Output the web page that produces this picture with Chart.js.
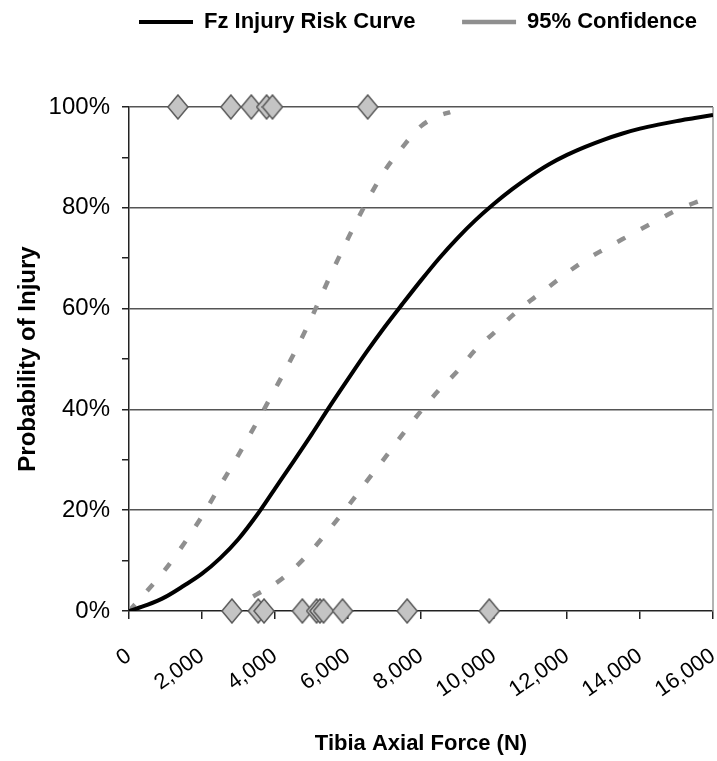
<!DOCTYPE html>
<html>
<head>
<meta charset="utf-8">
<title>Fz Injury Risk</title>
<script src="https://cdn.jsdelivr.net/npm/chart.js@4.4.1/dist/chart.umd.min.js"></script>
<style>
    html, body { margin: 0; padding: 0; background: #fff; }
    #wrap { width: 717px; height: 761px; position: relative; }
</style>
</head>
<body>
<div id="wrap"><canvas id="riskChart"></canvas></div>
<script>
// risk curve: tibia axial force (N) -> probability of injury (%)
const riskForce = [0, 500, 1000, 1500, 2000, 2500, 3000, 3500, 4000, 4500, 5000, 5500, 6000, 6500, 7000, 7500,
    8000, 8500, 9000, 9500, 10000, 10500, 11000, 11500, 12000, 12500, 13000, 13500, 14000, 14500, 15000, 15500, 16000];
const riskPct = [0, 1.2, 2.8, 5.0, 7.4, 10.5, 14.3, 19.0, 24.3, 29.6, 35.0, 40.6, 46.0, 51.3, 56.3, 61.0,
    65.6, 70.0, 74.0, 77.6, 80.8, 83.7, 86.3, 88.6, 90.5, 92.1, 93.5, 94.7, 95.7, 96.5, 97.2, 97.8, 98.4];

// 95% confidence bounds
const upperForce = [0, 500, 1000, 1500, 2000, 2500, 3000, 3500, 4000, 4500, 5000, 5500, 6000, 6500, 7000, 7500, 8000, 8500, 8800];
const upperPct = [0, 4.0, 8.3, 13.3, 18.8, 24.9, 31.0, 37.4, 44.0, 50.8, 58.2, 66.3, 73.9, 81.0, 87.3, 92.1, 96.2, 98.3, 99.0];
const lowerForce = [3400, 3500, 4000, 4500, 5000, 5500, 6000, 6500, 7000, 7500, 8000, 8500, 9000, 9500, 10000,
    10500, 11000, 11500, 12000, 12500, 13000, 13500, 14000, 14500, 15000, 15500, 16000];
const lowerPct = [2.9, 3.3, 5.4, 8.3, 12.0, 16.3, 20.8, 25.6, 30.3, 35.1, 39.7, 43.9, 47.6, 51.9, 55.2,
    58.6, 61.6, 64.3, 67.1, 69.6, 71.7, 73.7, 75.7, 77.6, 79.5, 81.0, 82.2];

// test outcomes: injured (100%) and not injured (0%)
const injuryForce = [1340, 2790, 3350, 3770, 3930, 6540];
const noInjuryForce = [2820, 3540, 3700, 4750, 5140, 5230, 5330, 5850, 7620, 9870];

const forceTicks = [0, 2000, 4000, 6000, 8000, 10000, 12000, 14000, 16000];
const pctTicks = [0, 20, 40, 60, 80, 100];

const FONT = "'Liberation Sans', Arial, Helvetica, sans-serif";

const toPoints = (xs, ys) => xs.map((x, i) => ({x: x, y: ys[i]}));
const withComma = v => String(v).replace(/\B(?=(\d{3})+(?!\d))/g, ",");

// grey diamond marker, a bit taller than wide
function diamondMarker(w, h) {
    const c = document.createElement("canvas");
    c.width = w + 2;
    c.height = h + 2;
    const g = c.getContext("2d");
    g.beginPath();
    g.moveTo(c.width / 2, 1);
    g.lineTo(c.width - 1, c.height / 2);
    g.lineTo(c.width / 2, c.height - 1);
    g.lineTo(1, c.height / 2);
    g.closePath();
    g.fillStyle = "#c4c4c4";
    g.fill();
    g.lineWidth = 1.5;
    g.strokeStyle = "#5a5a5a";
    g.stroke();
    return c;
}

// extra room between the legend and the plot
const legendGap = {
    id: "legendGap",
    beforeInit(chart) {
        const fit = chart.legend.fit;
        chart.legend.fit = function () {
            fit.call(this);
            this.height += 64;
        };
    }
};

// thin frame line on the right of the plot area
const plotFrame = {
    id: "plotFrame",
    beforeDatasetsDraw(chart) {
        const {ctx, chartArea} = chart;
        ctx.save();
        ctx.strokeStyle = "#9a9a9a";
        ctx.lineWidth = 1.5;
        ctx.beginPath();
        ctx.moveTo(chartArea.right, chartArea.top);
        ctx.lineTo(chartArea.right, chartArea.bottom);
        ctx.stroke();
        ctx.restore();
    }
};

const marker = diamondMarker(20, 24);
const diamond = {
    showLine: false,
    pointStyle: marker,
    pointRadius: 11,
    clip: false,
    order: 0,
    noLegend: true
};

new Chart(document.getElementById("riskChart"), {
    type: "scatter",
    data: {
        datasets: [
            {
                label: "Fz Injury Risk Curve     ",
                data: toPoints(riskForce, riskPct),
                showLine: true,
                borderColor: "#000",
                backgroundColor: "#000",
                borderWidth: 4,
                pointRadius: 0,
                cubicInterpolationMode: "monotone",
                order: 1
            },
            {
                label: "95% Confidence",
                data: toPoints(upperForce, upperPct),
                showLine: true,
                borderColor: "#8f8f8f",
                backgroundColor: "#8f8f8f",
                borderWidth: 4.5,
                borderDash: [9, 18],
                pointRadius: 0,
                cubicInterpolationMode: "monotone",
                order: 2
            },
            {
                label: "95% Confidence (lower)",
                data: toPoints(lowerForce, lowerPct),
                showLine: true,
                borderColor: "#8f8f8f",
                borderWidth: 4.5,
                borderDash: [9, 18],
                pointRadius: 0,
                cubicInterpolationMode: "monotone",
                order: 2,
                noLegend: true
            },
            Object.assign({label: "Injury", data: injuryForce.map(x => ({x: x, y: 100}))}, diamond),
            Object.assign({label: "No injury", data: noInjuryForce.map(x => ({x: x, y: 0}))}, diamond)
        ]
    },
    options: {
        responsive: true,
        maintainAspectRatio: false,
        animation: false,
        events: [],
        layout: {autoPadding: false, padding: {left: 4, right: 4, top: -5, bottom: 0}},
        plugins: {
            tooltip: {enabled: false},
            legend: {
                position: "top",
                align: "end",
                labels: {
                    usePointStyle: true,
                    pointStyle: "line",
                    pointStyleWidth: 54,
                    padding: 16,
                    color: "#000",
                    font: {family: FONT, size: 22, weight: "bold"},
                    filter: (item, data) => !data.datasets[item.datasetIndex].noLegend
                }
            }
        },
        scales: {
            x: {
                type: "linear",
                min: forceTicks[0],
                max: forceTicks[forceTicks.length - 1],
                afterFit: scale => {
                    scale.height = 150;
                    scale.paddingLeft = 0;
                    scale.paddingRight = 0;
                },
                ticks: {
                    stepSize: forceTicks[1] - forceTicks[0],
                    minRotation: 35,
                    maxRotation: 35,
                    padding: 24,
                    color: "#000",
                    font: {family: FONT, size: 22},
                    callback: v => withComma(v)
                },
                grid: {drawOnChartArea: false, tickLength: 8, tickColor: "#222", lineWidth: 1.5},
                border: {color: "#222", width: 1.5},
                title: {
                    display: true,
                    text: "Tibia Axial Force (N)",
                    color: "#000",
                    font: {family: FONT, size: 22, weight: "bold"},
                    padding: {top: 10, bottom: 4}
                }
            },
            y: {
                min: 0,
                max: 100,
                afterFit: scale => {
                    scale.width = 125;
                },
                ticks: {
                    stepSize: 10,
                    padding: 12,
                    color: "#000",
                    font: {family: FONT, size: 24},
                    callback: v => pctTicks.includes(v) ? v + "%" : ""
                },
                grid: {
                    color: c => (c.tick && c.tick.value > 0 && pctTicks.includes(c.tick.value)) ? "#555" : "rgba(0,0,0,0)",
                    tickColor: "#222",
                    tickLength: 7,
                    lineWidth: 1.5
                },
                border: {color: "#222", width: 1.5},
                title: {
                    display: true,
                    text: "Probability of Injury",
                    color: "#000",
                    font: {family: FONT, size: 24, weight: "bold"},
                    padding: {top: 10, bottom: 0}
                }
            }
        }
    },
    plugins: [legendGap, plotFrame]
});
</script>
</body>
</html>
